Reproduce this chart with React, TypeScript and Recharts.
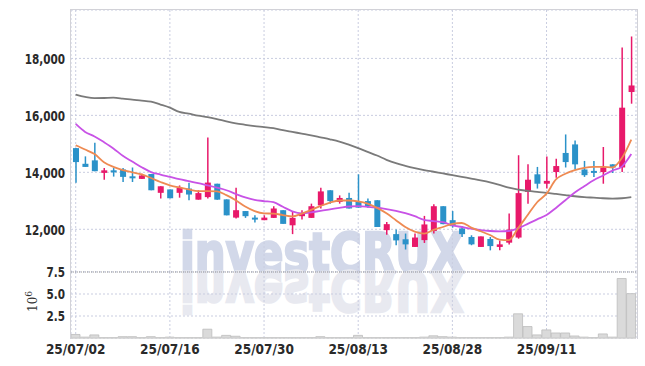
import React from 'react';
import { ComposedChart, Bar, Line, XAxis, YAxis, CartesianGrid, ReferenceLine } from 'recharts';

// trading days (KRX), 25/07/02 ~ 25/09/24
const dates = [
  '25/07/02', '25/07/03', '25/07/04', '25/07/07', '25/07/08', '25/07/09', '25/07/10', '25/07/11', '25/07/14', '25/07/15',
  '25/07/16', '25/07/17', '25/07/18', '25/07/21', '25/07/22', '25/07/23', '25/07/24', '25/07/25', '25/07/28', '25/07/29',
  '25/07/30', '25/07/31', '25/08/01', '25/08/04', '25/08/05', '25/08/06', '25/08/07', '25/08/08', '25/08/11', '25/08/12',
  '25/08/13', '25/08/14', '25/08/18', '25/08/19', '25/08/20', '25/08/21', '25/08/22', '25/08/25', '25/08/26', '25/08/27',
  '25/08/28', '25/08/29', '25/09/01', '25/09/02', '25/09/03', '25/09/04', '25/09/05', '25/09/08', '25/09/09', '25/09/10',
  '25/09/11', '25/09/12', '25/09/15', '25/09/16', '25/09/17', '25/09/18', '25/09/19', '25/09/22', '25/09/23', '25/09/24',
];

const open = [
  14850, 14300, 14420, 13980, 14070, 14100, 13860, 13770, 13940, 13280,
  13400, 13280, 13430, 13040, 13130, 13600, 13050, 12410, 12640, 12410,
  12320, 12400, 12670, 12140, 12460, 12400, 12840, 13370, 12960, 13100,
  12960, 12990, 13020, 11970, 11830, 11650, 11380, 11620, 11940, 12810,
  12320, 12030, 11730, 11380, 11660, 11380, 11530, 11710, 13310, 13930,
  13600, 14010, 14680, 14980, 14100, 14050, 14010, 14280, 14170, 16820,
];
const high = [
  14850, 14560, 15040, 14150, 14150, 14150, 14170, 13950, 13940, 13510,
  13400, 13540, 13630, 13370, 15220, 13600, 13050, 13460, 12640, 12490,
  12490, 12810, 12670, 12640, 12670, 12900, 13460, 13370, 13190, 13280,
  13930, 13080, 13020, 12260, 11990, 11850, 11850, 12470, 12880, 12810,
  12640, 12110, 11790, 11750, 11730, 11610, 12550, 14600, 14280, 14190,
  14560, 14480, 15330, 15120, 14400, 14400, 14890, 14280, 18380, 18770,
];
const low = [
  13630, 14190, 14040, 13740, 13850, 13660, 13660, 13770, 13370, 13080,
  13090, 13110, 13020, 13040, 13080, 13040, 12490, 12380, 12400, 12240,
  12320, 12400, 12190, 11830, 12340, 12400, 12730, 12900, 12900, 12730,
  12760, 12760, 12080, 11810, 11440, 11290, 11380, 11520, 11850, 12180,
  12060, 11730, 11440, 11380, 11260, 11260, 11470, 11670, 12900, 13430,
  13430, 13810, 14170, 14100, 13840, 13840, 13600, 13980, 14010, 16410,
];
const close = [
  14360, 14190, 14040, 14070, 14000, 13840, 13800, 13890, 13370, 13510,
  13090, 13460, 13220, 13270, 13640, 13040, 12490, 12670, 12460, 12360,
  12410, 12730, 12190, 12400, 12550, 12810, 13330, 12990, 13100, 12730,
  12760, 12810, 12080, 12180, 11610, 11470, 11710, 12170, 12810, 12180,
  12110, 11830, 11470, 11750, 11410, 11470, 11990, 13270, 13740, 13600,
  13700, 14220, 14360, 14280, 13900, 13980, 14170, 14170, 16270, 17050,
];

// volume, millions of shares
const volume = [
  0.4, 0.1, 0.35, 0.05, 0.05, 0.15, 0.15, 0.05, 0.15, 0.05,
  0.1, 0.05, 0.05, 0.05, 1.0, 0.1, 0.3, 0.2, 0.05, 0.05,
  0.05, 0.05, 0.05, 0.05, 0.05, 0.05, 0.15, 0.05, 0.05, 0.05,
  0.3, 0.05, 0.05, 0.05, 0.05, 0.05, 0.05, 0.1, 0.25, 0.15,
  0.1, 0.05, 0.05, 0.05, 0.05, 0.05, 0.1, 2.75, 1.3, 0.35,
  0.92, 0.57, 0.57, 0.23, 0.1, 0.05, 0.46, 0.1, 6.76, 5.04,
];

// moving averages
const ma5 = [
  14950, 14800, 14640, 14350, 14190, 14080, 14000, 13930, 13800, 13660,
  13540, 13470, 13400, 13340, 13340, 13330, 13200, 13020, 12800, 12640,
  12560, 12550, 12500, 12450, 12550, 12680, 12820, 12940, 13010, 13010,
  12980, 12900, 12750, 12560, 12320, 12080, 11920, 11850, 11980, 12080,
  12190, 12220, 12060, 11930, 11800, 11640, 11620, 12050, 12500, 12950,
  13250, 13750, 13950, 14080, 14160, 14190, 14190, 14170, 14500, 15150,
];
const ma20 = [
  15700, 15420, 15260, 15060, 14840, 14580, 14380, 14180, 14010, 13920,
  13840, 13760, 13690, 13620, 13540, 13460, 13370, 13240, 13120, 13030,
  12990, 12950, 12790, 12630, 12560, 12590, 12650, 12700, 12750, 12800,
  12810, 12790, 12760, 12710, 12650, 12570, 12460, 12330, 12290, 12250,
  12140, 12080, 12020, 11970, 11940, 11930, 11940, 12040, 12190, 12350,
  12500, 12750, 13020, 13290, 13510, 13720, 13890, 14060, 14200, 14640,
];
const ma60 = [
  16730, 16650, 16605, 16610, 16620, 16590, 16550, 16520, 16480, 16380,
  16270, 16120, 16060, 15990, 15940, 15870, 15790, 15720, 15670, 15625,
  15590, 15550, 15480, 15420, 15360, 15300, 15230, 15160, 15080, 14970,
  14850, 14720, 14590, 14440, 14320, 14230, 14150, 14080, 14020, 13960,
  13900, 13840, 13780, 13720, 13650, 13560, 13460, 13390, 13350, 13310,
  13280, 13240, 13200, 13160, 13130, 13110, 13090, 13080, 13090, 13130,
];

const priceTicks = [12000, 14000, 16000, 18000];
const volumeTicks = [2.5, 5, 7.5];

const UP = '#e8196a';
const DOWN = '#2b92c9';
const GRID = '#c9cde0';
const FONT = "'DejaVu Sans Condensed', 'DejaVu Sans', sans-serif";

const rows = dates.map((date, i) => ({
  date,
  open: open[i],
  high: high[i],
  low: low[i],
  close: close[i],
  range: [low[i], high[i]],
  volume: volume[i],
  ma5: ma5[i],
  ma20: ma20[i],
  ma60: ma60[i],
}));

const Candle = (props: any) => {
  const { x, y, width, height, payload } = props;
  if (payload == null) return null;
  const top = Math.min(y, y + height);
  const h = Math.abs(height);
  const span = payload.high - payload.low || 1;
  const py = (v: number) => top + ((payload.high - v) / span) * h;
  const color = payload.close >= payload.open ? UP : DOWN;
  const cx = x + width / 2;
  const bTop = py(Math.max(payload.open, payload.close));
  const bBot = py(Math.min(payload.open, payload.close));
  return (
    <g>
      <line x1={cx} x2={cx} y1={top} y2={top + h} stroke={color} strokeWidth={1.5} />
      <rect x={x} y={bTop} width={width} height={Math.max(bBot - bTop, 2)} fill={color} />
    </g>
  );
};

// narrow, bold y labels (the source uses a condensed face)
const makeYTick = (fmt: (v: number) => string) => (props: any) => {
  const { x, y, payload } = props;
  return (
    <text transform={`translate(${x},${y}) scale(0.8,1)`} textAnchor="end" dy="0.36em"
      fontFamily={FONT} fontWeight={700} fontSize={14.5} fill="#2a2a2a">
      {fmt(payload.value)}
    </text>
  );
};
const PriceTick = makeYTick((v) => v.toLocaleString('en-US'));
const VolumeTick = makeYTick((v) => v.toFixed(1));

const xTickStyle = { fontSize: 13.5, fill: '#2a2a2a', fontFamily: FONT, fontWeight: 700 };
const hiddenTick = { fontSize: 1, fill: 'none' };

const Watermark = ({ fill }: { fill: string }) => (
  <text x={180} y={272} textLength={284} lengthAdjust="spacingAndGlyphs"
    fontFamily="'DejaVu Sans', sans-serif" fontWeight={700} fontSize={55}
    fill={fill} stroke={fill} strokeWidth={2.5}>
    investCRUX
  </text>
);

export default function App() {
  return (
    <div style={{ position: 'absolute', left: 0, top: 0, width: 645, height: 366, background: '#fff' }}>
      {/* watermark + its reflection */}
      <svg width={645} height={366} style={{ position: 'absolute', left: 0, top: 0 }}>
        <Watermark fill="#d2d8e9" />
        <g transform="translate(0, 544) scale(1, -1)">
          <Watermark fill="#e8e9f0" />
        </g>
        <text transform="rotate(-90, 37, 312)" x={37} y={312} fontFamily="'DejaVu Serif', serif" fontSize={12} fill="#333">
          10<tspan dy={-5} fontSize={9}>6</tspan>
        </text>
      </svg>

      <div style={{ position: 'absolute', left: 0, top: 0 }}>
        <ComposedChart width={645} height={272} data={rows} margin={{ top: 10, right: 9, left: 8, bottom: 0 }}>
          <CartesianGrid stroke={GRID} strokeDasharray="2 2" />
          <XAxis dataKey="date" interval={9} height={0} tick={hiddenTick} axisLine={false} tickLine={false} />
          <YAxis
            domain={[10500, 19700]}
            ticks={priceTicks}
            interval={0}
            width={63}
            tickSize={0}
            tickMargin={6}
            axisLine={false}
            tick={PriceTick}
          />
          <Bar dataKey="range" barSize={6} shape={Candle} isAnimationActive={false} />
          <Line type="monotone" dataKey="ma60" stroke="#7a7a7a" strokeWidth={1.8} dot={false} isAnimationActive={false} />
          <Line type="monotone" dataKey="ma20" stroke="#c852e6" strokeWidth={1.8} dot={false} isAnimationActive={false} />
          <Line type="monotone" dataKey="ma5" stroke="#ee8a52" strokeWidth={1.8} dot={false} isAnimationActive={false} />
        </ComposedChart>
      </div>

      <div style={{ position: 'absolute', left: 0, top: 262 }}>
        <ComposedChart width={645} height={104} data={rows} margin={{ top: 10, right: 9, left: 8, bottom: 0 }}>
          <CartesianGrid stroke={GRID} strokeDasharray="2 2" />
          <XAxis
            dataKey="date"
            interval={9}
            height={28}
            tickSize={0}
            tickMargin={6}
            axisLine={{ stroke: '#d4d4d4' }}
            tick={xTickStyle}
          />
          <YAxis
            domain={[0, 7.5]}
            ticks={volumeTicks}
            interval={0}
            width={63}
            tickSize={0}
            tickMargin={6}
            axisLine={false}
            tick={VolumeTick}
          />
          <ReferenceLine y={7.5} stroke="#9a9a9a" strokeDasharray="1 1" />
          <Bar dataKey="volume" barSize={9} fill="#dadada" stroke="#bdbdbd" strokeWidth={0.8} isAnimationActive={false} />
        </ComposedChart>
      </div>

      {/* plot frame */}
      <div style={{ position: 'absolute', left: 70, top: 9, width: 566, height: 329, border: '1px solid #d2d2d8', borderBottom: 'none', pointerEvents: 'none' }} />
    </div>
  );
}
